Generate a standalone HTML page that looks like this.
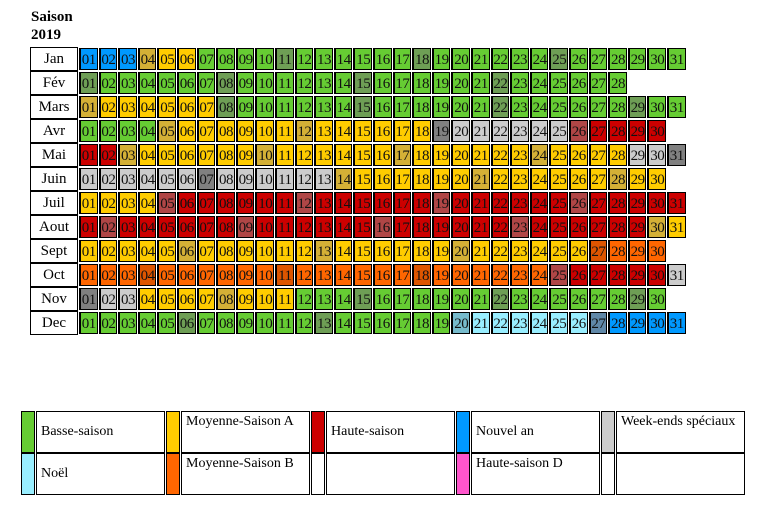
<!DOCTYPE html>
<html><head><meta charset="utf-8">
<style>
body{margin:0;width:770px;height:511px;background:#fff;position:relative;overflow:hidden;font-family:"Liberation Serif",serif;}
.abs{position:absolute;box-sizing:border-box;}
.title{left:31px;top:8px;font-weight:bold;font-size:15px;line-height:18px;}
.mon{border:1px solid #000;text-align:center;font-size:15px;line-height:22px;}
.cell{border:1px solid #000;border-left-width:2px;font-size:15px;line-height:22px;text-align:center;letter-spacing:-0.5px;color:#111;}
.lg{border:1px solid #000;font-size:14px;line-height:16px;}
</style></head><body>
<div class="abs title">Saison<br>2019</div>
<div id="cal"></div>
<div id="legend"></div>
<script>
const months=["Jan","Fév","Mars","Avr","Mai","Juin","Juil","Aout","Sept","Oct","Nov","Dec"];
const dayCodes=[
"BBByYYGGGGgGGGGGGgGGGGGGgGGGGGG",
"gGGGGGGgGGGGGGgGGGGGGgGGGGGG",
"yYYYYYYgGGGGGGgGGGGGGgGGGGGGgGG",
"GGGGyYYYYYYyYYYYYYwWWWWWWrRRRR",
"RRyYYYYYYyYYYYYYyYYYYYYyYYYYWWw",
"WWWWWWwWWWWWWyYYYYYYyYYYYYYyYY",
"YYYYrRRRRRRrRRRRRRrRRRRRRrRRRRR",
"RrRRRRRRrRRRRRRrRRRRRRrRRRRRRyY",
"YYYYYyYYYYYYyYYYYYYyYYYYYYoOOO",
"OOOoOOOOOOoOOOOOOoOOOOOOrRRRRRW",
"wWWYYYYyYYYGGGgGGGGGGgGGGGGGgG",
"GGGGGgGGGGGGgGGGGGGcCCCCCCbBBBB"];
const palette={G:"#66cc33",g:"#6e9e55",Y:"#ffcc00",y:"#d4b036",R:"#cc0000",r:"#b04646",B:"#0099ff",b:"#6088a8",W:"#cccccc",w:"#808080",O:"#ff6600",o:"#dd5500",C:"#99eeff",c:"#77bbcc"};
const legendLabels=[["Basse-saison","Moyenne-Saison A","Haute-saison","Nouvel an","Week-ends spéciaux"],["Noël","Moyenne-Saison B","","Haute-saison D",""]];
const legendColors=[["#66cc33","#ffcc00","#cc0000","#0099ff","#cccccc"],["#99eeff","#ff6600","#ffffff","#ff55cc","#ffffff"]];
const cal=document.getElementById('cal');
const X0=79,PITCH=19.6,Y0=47,ROWH=24;
months.forEach((m,r)=>{
  const lab=document.createElement('div');
  lab.className='abs mon';
  
  
  lab.style.cssText=`left:30px;top:${Y0+r*ROWH}px;width:48px;height:${ROWH}px;`;
  lab.textContent=m;cal.appendChild(lab);
  const codes=dayCodes[r];
  for(let i=0;i<codes.length;i++){
    const c=document.createElement('div');
    c.className='abs cell';
    
    
    c.style.cssText=`left:${X0+i*PITCH}px;top:${Y0+r*ROWH+1}px;width:${PITCH-1}px;height:${ROWH-2}px;background:${palette[codes[i]]};`;
    c.textContent=String(i+1).padStart(2,'0');
    cal.appendChild(c);
  }
});
const lg=document.getElementById('legend');
const colX=[21,166,311,456,601];
legendLabels.forEach((row,r)=>{
  row.forEach((t,k)=>{
    const y=411+r*42;
    const s=document.createElement('div');
    s.className='abs lg';
    
    
    s.style.cssText=`left:${colX[k]}px;top:${y}px;width:14px;height:42px;background:${legendColors[r][k]};`;
    lg.appendChild(s);
    const b=document.createElement('div');
    b.className='abs lg';
    
    
    const two=t.length>13;
    b.style.cssText=`left:${colX[k]+15}px;top:${y}px;width:129px;height:42px;padding:${two?'2px 4px 0 4px':'12px 4px 0 4px'};`;
    b.textContent=t;
    lg.appendChild(b);
  });
});
</script>
</body></html>
